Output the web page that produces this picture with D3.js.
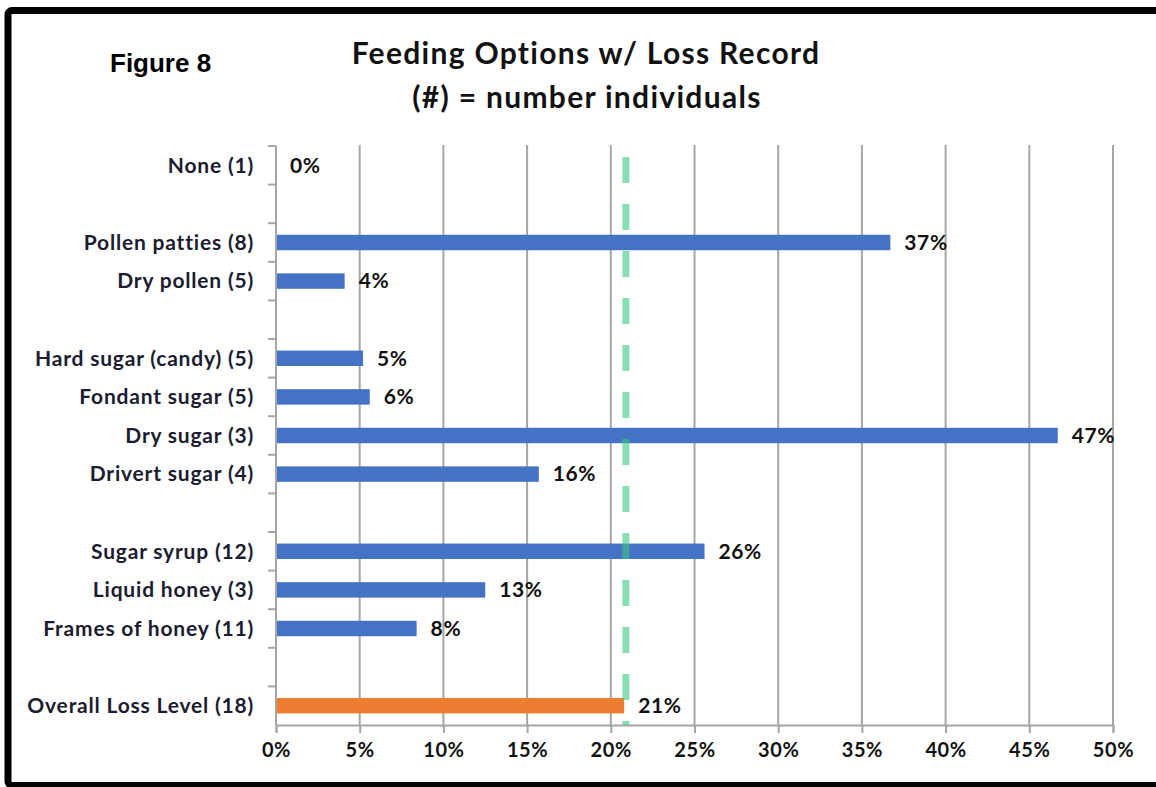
<!DOCTYPE html>
<html>
<head>
<meta charset="utf-8">
<script src="https://cdn.jsdelivr.net/npm/d3@7"></script>
<style>
  body { margin: 0; background: #fff; }
  svg text { font-family: "Lato", "Open Sans", sans-serif; font-weight: bold; }
</style>
</head>
<body>
<div id="viz"></div>
<script>
// categories top to bottom, "" = empty spacer rows
const categories = [
    "None (1)", "", "Pollen patties (8)", "Dry pollen (5)", "",
    "Hard sugar (candy) (5)", "Fondant sugar (5)", "Dry sugar (3)", "Drivert sugar (4)", "",
    "Sugar syrup (12)", "Liquid honey (3)", "Frames of honey (11)", "",
    "Overall Loss Level (18)"
]
// loss % per category (null for spacers)
const lossValues = [0, null, 36.7, 4.1, null, 5.2, 5.6, 46.7, 15.7, null, 25.6, 12.5, 8.4, null, 20.8]
const valueLabels = ["0%", "", "37%", "4%", "", "5%", "6%", "47%", "16%", "", "26%", "13%", "8%", "", "21%"]
const xTicks = [0, 5, 10, 15, 20, 25, 30, 35, 40, 45, 50]
const overallLine = 20.9

document.addEventListener("DOMContentLoaded", () => {

    const width = 1156
    const height = 787

    const svg = d3.select("#viz").append("svg")
        .attr("width", width)
        .attr("height", height)

    // frame
    svg.append("rect")
        .attr("x", 8)
        .attr("y", 10.5)
        .attr("width", 1200)
        .attr("height", 775)
        .attr("rx", 4)
        .attr("fill", "none")
        .attr("stroke", "#000")
        .attr("stroke-width", 7)

    svg.append("text")
        .text("Figure 8")
        .attr("x", 110)
        .attr("y", 72)
        .style("font-family", "'Liberation Sans', Arial, sans-serif")
        .style("font-size", "26px")

    const title = svg.append("text")
        .attr("text-anchor", "middle")
        .style("font-size", "30px")
        .style("letter-spacing", "1.3px")
        .attr("fill", "#111")
    title.append("tspan").attr("x", 586).attr("y", 64).text("Feeding Options  w/ Loss Record")
    title.append("tspan").attr("x", 587).attr("y", 108).text("(#) = number  individuals")

    const left = 276, right = 1113, top = 146, bottom = 725

    const x = d3.scaleLinear().domain([0, 50]).range([left, right])
    const y = d3.scaleBand().domain(d3.range(categories.length)).range([top, bottom]).paddingInner(0.6).paddingOuter(0.3)
    const slot = (bottom - top) / categories.length

    // vertical gridlines
    svg.append("g")
        .selectAll("line")
        .data(xTicks.slice(1))
        .join("line")
        .attr("x1", d => x(d))
        .attr("x2", d => x(d))
        .attr("y1", top - 1)
        .attr("y2", bottom)
        .attr("stroke", "#a6a6a6")
        .attr("stroke-width", 2)

    // x axis
    const xAxis = svg.append("g")
        .attr("transform", `translate(0,${bottom})`)
        .call(d3.axisBottom(x).tickValues(xTicks).tickFormat(d => d + "%").tickSize(8).tickPadding(10))
    xAxis.select(".domain").attr("stroke", "#a6a6a6").attr("stroke-width", 2)
    xAxis.selectAll(".tick line").attr("stroke", "#a6a6a6").attr("stroke-width", 2)
    xAxis.selectAll(".tick text")
        .attr("fill", "#111")
        .style("font-size", "20px")
        .style("letter-spacing", "0.6px")
        .style("font-family", "Lato, sans-serif")
        .style("font-weight", "bold")

    // y axis line with ticks at each slot boundary
    svg.append("line")
        .attr("x1", left).attr("x2", left)
        .attr("y1", top).attr("y2", bottom)
        .attr("stroke", "#a6a6a6").attr("stroke-width", 2)
    svg.append("g")
        .selectAll("line")
        .data(d3.range(categories.length))
        .join("line")
        .attr("x1", left - 8).attr("x2", left)
        .attr("y1", d => top + d * slot)
        .attr("y2", d => top + d * slot)
        .attr("stroke", "#a6a6a6").attr("stroke-width", 2)

    // category labels
    svg.append("g")
        .selectAll("text")
        .data(categories)
        .join("text")
        .text(d => d)
        .attr("x", 254)
        .attr("y", (d, i) => y(i) + y.bandwidth() / 2)
        .attr("dy", "0.35em")
        .attr("text-anchor", "end")
        .attr("fill", "#1c1c30")
        .style("font-size", "21px")
        .style("letter-spacing", "0.8px")

    const rows = d3.range(categories.length).filter(i => lossValues[i] !== null)

    // bars
    svg.append("g")
        .selectAll("rect")
        .data(rows)
        .join("rect")
        .attr("x", left + 1)
        .attr("y", i => y(i))
        .attr("width", i => Math.max(0, x(lossValues[i]) - left - 1))
        .attr("height", y.bandwidth())
        .attr("fill", i => i === categories.length - 1 ? "#ed7d31" : "#4472c4")

    // value labels
    svg.append("g")
        .selectAll("text")
        .data(rows)
        .join("text")
        .text(i => valueLabels[i])
        .attr("x", i => x(lossValues[i]) + 14)
        .attr("y", i => y(i) + y.bandwidth() / 2)
        .attr("dy", "0.35em")
        .attr("fill", "#111")
        .style("font-size", "21px")
        .style("letter-spacing", "0.6px")

    // overall loss reference line
    svg.append("line")
        .attr("x1", x(overallLine)).attr("x2", x(overallLine))
        .attr("y1", 157).attr("y2", bottom)
        .attr("stroke", "#3cc882")
        .attr("stroke-opacity", 0.6)
        .attr("stroke-width", 7)
        .attr("stroke-dasharray", "26 21")

})
</script>
</body>
</html>
